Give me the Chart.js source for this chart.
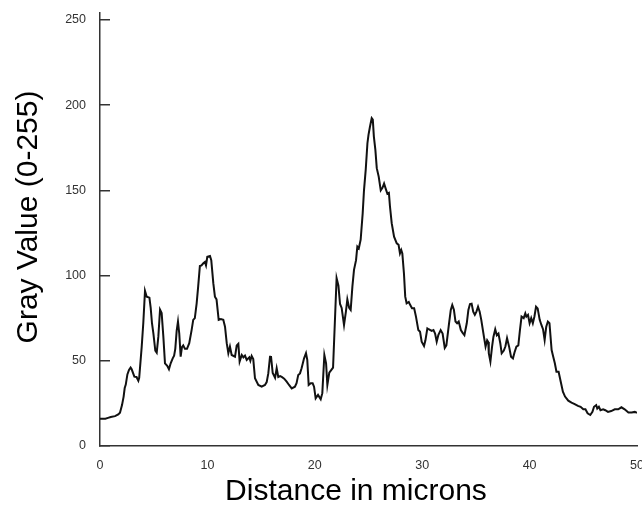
<!DOCTYPE html>
<html>
<head>
<meta charset="utf-8">
<script src="https://cdn.jsdelivr.net/npm/chart.js@4"></script>
<style>
  html, body { margin: 0; padding: 0; background: #fff; }
  #wrap { width: 642px; height: 508px; }
</style>
</head>
<body>
<div id="wrap"><canvas id="profileChart" width="642" height="508"></canvas></div>
<script>
// distance along the line (microns)
const distance = [
  0.0, 0.5, 0.75, 1.0, 1.4, 1.7, 1.86, 2.05, 2.2, 2.3, 2.4, 2.55, 2.7, 2.85, 2.95, 3.2, 3.4, 3.57, 3.65, 3.88,
  4.03, 4.19, 4.35, 4.6, 4.72, 4.84, 4.97, 5.15, 5.28, 5.43, 5.59, 5.74, 5.9, 6.05, 6.26, 6.42, 6.58, 6.77, 6.9, 7.01,
  7.14, 7.26, 7.38, 7.51, 7.63, 7.75, 7.91, 8.1, 8.31, 8.53, 8.68, 8.83, 9.0, 9.14, 9.3, 9.45, 9.62, 9.77, 9.87, 9.99,
  10.24, 10.36, 10.55, 10.7, 10.85, 11.05, 11.25, 11.48, 11.64, 11.8, 11.95, 12.1, 12.26, 12.57, 12.73, 12.88, 13.0, 13.2, 13.35, 13.5,
  13.66, 13.9, 14.0, 14.12, 14.27, 14.43, 14.74, 15.05, 15.36, 15.52, 15.67, 15.83, 15.92, 16.08, 16.3, 16.45, 16.6, 16.77, 16.92, 17.15,
  17.38, 17.6, 17.85, 18.15, 18.3, 18.46, 18.62, 18.77, 19.0, 19.18, 19.3, 19.43, 19.62, 19.8, 19.93, 20.08, 20.3, 20.55, 20.7, 20.89,
  21.05, 21.17, 21.35, 21.7, 22.03, 22.2, 22.35, 22.5, 22.72, 22.9, 23.03, 23.2, 23.34, 23.5, 23.65, 23.84, 23.96, 24.1, 24.27, 24.46,
  24.58, 24.74, 24.9, 25.0, 25.14, 25.3, 25.4, 25.5, 25.64, 25.77, 25.95, 26.14, 26.3, 26.45, 26.6, 26.76, 26.9, 27.0, 27.16, 27.38,
  27.63, 27.8, 27.93, 28.05, 28.15, 28.3, 28.42, 28.55, 28.75, 28.9, 29.05, 29.25, 29.42, 29.64, 29.8, 29.95, 30.17, 30.3, 30.48, 30.6,
  30.88, 31.05, 31.2, 31.35, 31.5, 31.72, 31.9, 32.1, 32.25, 32.5, 32.66, 32.8, 32.95, 33.1, 33.25, 33.4, 33.6, 33.75, 33.93, 34.15,
  34.3, 34.45, 34.6, 34.75, 34.9, 35.05, 35.2, 35.35, 35.5, 35.75, 35.9, 36.05, 36.15, 36.2, 36.35, 36.5, 36.63, 36.8, 36.95, 37.1,
  37.27, 37.4, 37.6, 37.75, 37.9, 38.1, 38.27, 38.45, 38.6, 38.77, 38.95, 39.1, 39.25, 39.45, 39.6, 39.7, 39.85, 40.0, 40.15, 40.3,
  40.45, 40.6, 40.75, 40.94, 41.1, 41.25, 41.4, 41.55, 41.7, 41.85, 42.05, 42.2, 42.35, 42.5, 42.7, 42.9, 43.1, 43.3, 43.6, 43.9,
  44.2, 44.5, 44.75, 45.0, 45.2, 45.4, 45.65, 45.85, 46.0, 46.2, 46.3, 46.45, 46.6, 46.85, 47.05, 47.3, 47.6, 47.93, 48.25, 48.55,
  48.85, 49.2, 49.5, 49.8, 50.0
];

// gray value at each distance
const grayValue = [
  16, 16, 16.5, 17, 17.5, 18.5, 19.5, 24, 29, 34, 36, 42, 44.6, 46, 45, 40.7, 40.5, 38.3, 40, 58,
  72, 91, 87.6, 87, 81, 72, 66, 56, 54.8, 64, 80, 78, 64, 48.5, 47, 45, 48.5, 51.4, 53, 57,
  67.7, 73, 66, 52.4, 58, 59, 57, 57, 60.3, 68, 74, 75, 83.7, 93.5, 105.6, 106, 107.2, 108, 106, 111,
  111.5, 109, 95.5, 87.6, 86, 74, 74.5, 74, 70, 60.3, 54.4, 58.3, 53.4, 52.4, 59, 60, 49.5, 53.4, 52, 53,
  50.5, 52, 50, 52.8, 51, 39.7, 35.8, 34.8, 35.8, 37.5, 42.6, 52.4, 52.8, 42.8, 40, 45.6, 40.5, 41, 40.5, 39.5,
  37.7, 35.8, 33.8, 34.8, 36.8, 41.7, 42.6, 45.6, 51.4, 54.4, 50.5, 35.8, 36.8, 36.8, 34.8, 28, 30, 27.4, 31, 53.4,
  48.5, 35.8, 43, 46, 98.4, 94, 83.3, 81, 71, 79, 86, 81, 79.8, 93.5, 103.3, 109, 117, 116, 121, 136.6,
  150, 162, 177.6, 182.5, 187.4, 192.3, 191.5, 181.5, 173.7, 163, 158, 150, 151.5, 154, 151, 148, 148.5, 140.5, 130.7, 122.8,
  118.9, 118, 113, 115, 113, 101.3, 87.6, 83.7, 84.5, 82.5, 80.8, 80.8, 75.9, 68, 67, 61.2, 58.7, 62, 69, 68.5,
  67.5, 68, 66, 61.2, 65, 68, 66, 57.5, 59, 72, 79.8, 82.7, 80, 73, 72, 73, 68, 66.5, 65, 72,
  79.8, 83.3, 83.5, 78.8, 77, 78.8, 81.7, 78.8, 74, 64, 58.3, 62, 61, 54.4, 49.5, 58, 64, 68.5, 65, 66,
  60.3, 54.4, 56, 58.5, 63.3, 58, 52.4, 51.4, 55, 58.3, 59, 68, 75.9, 75, 77.8, 75.9, 76.9, 72, 75, 72,
  76, 81.7, 80.7, 74, 71, 68.5, 62.2, 70, 73, 72, 56.3, 52.4, 48.5, 43.6, 43.6, 37.7, 31.9, 29, 26.6, 25.4,
  24.6, 23.5, 23, 21.5, 21.5, 19.2, 18.2, 20, 23, 24, 22, 23, 21, 21.5, 21, 20, 20.5, 21.5, 21.5, 22.7,
  21.5, 19.6, 19.6, 20, 19.5
];

const xTicks = [0, 10, 20, 30, 40, 50];
const yTicks = [0, 50, 100, 150, 200, 250];

const xTitle = "Distance in microns";
const yTitle = "Gray Value (0-255)";

const fontFamily = "'Liberation Sans', Arial, Helvetica, sans-serif";
const axisColor = "#333";

let points = [];
distance.forEach((d, i) => {
    points.push({ x: d, y: grayValue[i] });
});

const chartConfig = {
    type: 'line',
    data: {
        datasets: [{
            data: points,
            borderColor: '#111',
            borderWidth: 2,
            pointRadius: 0,
            fill: false,
            tension: 0
        }]
    },
    options: {
        responsive: false,
        animation: false,
        layout: { padding: { left: 0, right: 5, top: 13, bottom: 0 } },
        plugins: { legend: { display: false }, tooltip: { enabled: false } },
        scales: {
            x: {
                type: 'linear',
                min: 0,
                max: 50,
                afterBuildTicks: scale => { scale.ticks = xTicks.map(v => ({ value: v })) },
                afterFit: scale => {
                    scale.height = 62;
                    scale.paddingLeft = 0;
                    scale.paddingRight = 0;
                },
                grid: { display: true, drawOnChartArea: false, drawTicks: false },
                border: { display: true, color: axisColor, width: 1.5 },
                ticks: {
                    padding: 12,
                    maxRotation: 0,
                    color: '#333',
                    font: { family: fontFamily, size: 12.5 }
                },
                title: {
                    display: true,
                    text: xTitle + "   ",
                    color: '#000',
                    font: { family: fontFamily, size: 30, lineHeight: 1.0 },
                    padding: { top: 0, bottom: 1 }
                }
            },
            y: {
                type: 'linear',
                min: 0,
                max: 254,
                afterBuildTicks: scale => { scale.ticks = yTicks.map(v => ({ value: v })) },
                afterFit: scale => {
                    scale.width = 100;
                    scale.paddingTop = 0;
                    scale.paddingBottom = 0;
                },
                grid: {
                    display: true,
                    drawOnChartArea: false,
                    drawTicks: true,
                    tickLength: -10,
                    color: axisColor,
                    lineWidth: 1.5
                },
                border: { display: true, color: axisColor, width: 1.5 },
                ticks: {
                    padding: 24,
                    color: '#333',
                    font: { family: fontFamily, size: 12.5 }
                },
                title: {
                    display: true,
                    text: "   " + yTitle,
                    color: '#000',
                    font: { family: fontFamily, size: 30, lineHeight: 1.0 },
                    padding: { top: 14, bottom: 0 }
                }
            }
        }
    }
};

const profileChart = new Chart(document.getElementById("profileChart"), chartConfig);
</script>
</body>
</html>
